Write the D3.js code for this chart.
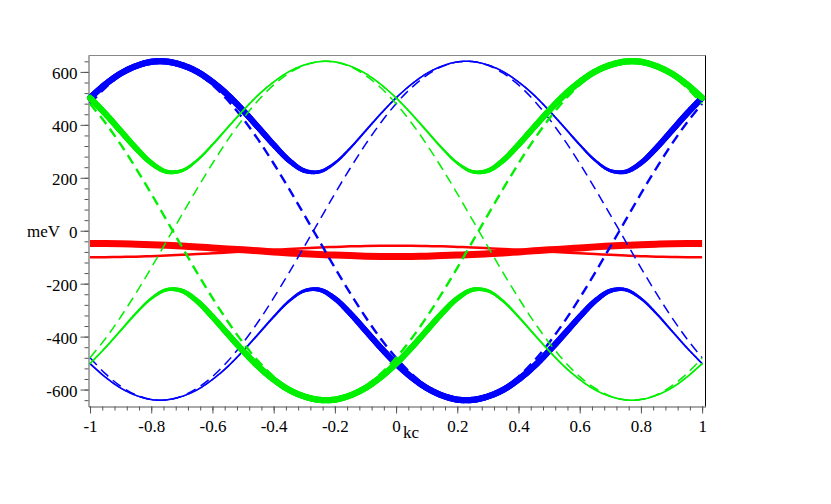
<!DOCTYPE html>
<html>
<head>
<meta charset="utf-8">
<script src="https://cdn.jsdelivr.net/npm/d3@7"></script>
<style>
  body { margin: 0; background: #fff; }
  text { font-family: "Liberation Serif", "Times New Roman", serif; font-size: 17px; fill: #000; }
</style>
</head>
<body>
<div id="chart"></div>
<script>
// k grid (units of kc) and the energies (meV)
var kValues = [-1, -0.95, -0.9, -0.85, -0.8, -0.75, -0.7, -0.65, -0.6, -0.55, -0.5, -0.45, -0.4, -0.35, -0.3, -0.25, -0.2, -0.15, -0.1, -0.05,
  0, 0.05, 0.1, 0.15, 0.2, 0.25, 0.3, 0.35, 0.4, 0.45, 0.5, 0.55, 0.6, 0.65, 0.7, 0.75, 0.8, 0.85, 0.9, 0.95, 1];

var blueUpper = [502, 553, 594, 622, 638, 639, 626, 601, 562, 513, 454, 390, 325, 266, 227, 223, 256, 312, 377, 442,
  502, 553, 594, 622, 638, 639, 626, 601, 562, 513, 454, 390, 325, 266, 227, 223, 256, 312, 377, 442, 502];
var blueLower = [-502, -553, -594, -622, -638, -639, -626, -601, -562, -513, -454, -390, -325, -266, -227, -223, -256, -312, -377, -442,
  -502, -553, -594, -622, -638, -639, -626, -601, -562, -513, -454, -390, -325, -266, -227, -223, -256, -312, -377, -442, -502];
var greenUpper = [502, 442, 377, 312, 256, 223, 227, 266, 325, 390, 454, 513, 562, 601, 626, 639, 638, 622, 594, 553,
  502, 442, 377, 312, 256, 223, 227, 266, 325, 390, 454, 513, 562, 601, 626, 639, 638, 622, 594, 553, 502];
var greenLower = [-502, -442, -377, -312, -256, -223, -227, -266, -325, -390, -454, -513, -562, -601, -626, -639, -638, -622, -594, -553,
  -502, -442, -377, -312, -256, -223, -227, -266, -325, -390, -454, -513, -562, -601, -626, -639, -638, -622, -594, -553, -502];

// spectral weight along each solid branch (0..1)
var blueUpperWeight = [0.98, 0.99, 0.99, 1, 1, 1, 1, 1, 0.99, 0.98, 0.97, 0.94, 0.89, 0.80, 0.63, 0.41, 0.23, 0.12, 0.07, 0.04,
  0.02, 0.01, 0.01, 0, 0, 0, 0, 0, 0.01, 0.02, 0.03, 0.06, 0.11, 0.20, 0.37, 0.59, 0.77, 0.88, 0.93, 0.96, 0.98];
var blueLowerWeight = [0.02, 0.01, 0.01, 0, 0, 0, 0, 0, 0.01, 0.02, 0.03, 0.06, 0.11, 0.20, 0.37, 0.59, 0.77, 0.88, 0.93, 0.96,
  0.98, 0.99, 0.99, 1, 1, 1, 1, 1, 0.99, 0.98, 0.97, 0.94, 0.89, 0.80, 0.63, 0.41, 0.23, 0.12, 0.07, 0.04, 0.02];
var greenUpperWeight = [0.98, 0.96, 0.93, 0.88, 0.77, 0.59, 0.37, 0.20, 0.11, 0.06, 0.03, 0.02, 0.01, 0, 0, 0, 0, 0, 0.01, 0.01,
  0.02, 0.04, 0.07, 0.12, 0.23, 0.41, 0.63, 0.80, 0.89, 0.94, 0.97, 0.98, 0.99, 1, 1, 1, 1, 1, 0.99, 0.99, 0.98];
var greenLowerWeight = [0.02, 0.04, 0.07, 0.12, 0.23, 0.41, 0.63, 0.80, 0.89, 0.94, 0.97, 0.98, 0.99, 1, 1, 1, 1, 1, 0.99, 0.99,
  0.98, 0.96, 0.93, 0.88, 0.77, 0.59, 0.37, 0.20, 0.11, 0.06, 0.03, 0.02, 0.01, 0, 0, 0, 0, 0, 0.01, 0.01, 0.02];

// bare bands (dashed)
var blueDashA = [480, 540, 587, 620, 637, 639, 625, 595, 551, 493, 423, 343, 254, 159, 60, -40, -140, -236, -326, -408,
  -480, -540, -587, -620, -637, -639, -625, -595, -551, -493, -423, -343, -254, -159, -60, 40, 140, 236, 326, 408, 480];
var blueDashB = [-480, -540, -587, -620, -637, -639, -625, -595, -551, -493, -423, -343, -254, -159, -60, 40, 140, 236, 326, 408,
  480, 540, 587, 620, 637, 639, 625, 595, 551, 493, 423, 343, 254, 159, 60, -40, -140, -236, -326, -408, -480];
var greenDashA = [480, 408, 326, 236, 140, 40, -60, -159, -254, -343, -423, -493, -551, -595, -625, -639, -637, -620, -587, -540,
  -480, -408, -326, -236, -140, -40, 60, 159, 254, 343, 423, 493, 551, 595, 625, 639, 637, 620, 587, 540, 480];
var greenDashB = [-480, -408, -326, -236, -140, -40, 60, 159, 254, 343, 423, 493, 551, 595, 625, 639, 637, 620, 587, 540,
  480, 408, 326, 236, 140, 40, -60, -159, -254, -343, -423, -493, -551, -595, -625, -639, -637, -620, -587, -540, -480];

// flat bands near -75 meV
var redThick = [-48, -48, -49, -51, -53, -55, -58, -61, -65, -69, -72, -76, -80, -84, -87, -90, -92, -94, -96, -97,
  -97, -97, -96, -94, -92, -90, -87, -84, -80, -76, -72, -69, -65, -61, -58, -55, -53, -51, -49, -48, -48];
var redThin = [-100, -100, -99, -98, -96, -94, -91, -88, -85, -82, -78, -75, -72, -69, -66, -63, -61, -59, -58, -57,
  -57, -57, -58, -59, -61, -63, -66, -69, -72, -75, -78, -82, -85, -88, -91, -94, -96, -98, -99, -100, -100];

var xTickLabels = [-1, -0.8, -0.6, -0.4, -0.2, 0, 0.2, 0.4, 0.6, 0.8, 1];
var yTickLabels = [-600, -400, -200, 0, 200, 400, 600];

var width = 831, height = 504;

var svg = d3.select("#chart").append("svg")
    .attr("width", width)
    .attr("height", height);

svg.append("rect").attr("width", width).attr("height", height).attr("fill", "#fff");

var x = d3.scaleLinear()
    .domain([-1.005, 1.011])
    .range([88.5, 705.5]);

var y = d3.scaleLinear()
    .domain([-664, 662])
    .range([406.5, 55.5]);

var fmt = function(d) { return String(d); };   // plain hyphen minus like the original

// frame: top and right edges
svg.append("line")
    .attr("x1", x.range()[0]).attr("x2", x.range()[1])
    .attr("y1", y.range()[1]).attr("y2", y.range()[1])
    .attr("stroke", "#888");
svg.append("line")
    .attr("x1", x.range()[1]).attr("x2", x.range()[1])
    .attr("y1", y.range()[1]).attr("y2", y.range()[0])
    .attr("stroke", "#000");

// y axis, minor then major
svg.append("g")
    .attr("transform", "translate(" + x.range()[0] + ",0)")
    .call(d3.axisLeft(y).tickValues(d3.range(-640, 641, 40)).tickSize(4).tickSizeOuter(0).tickFormat(""))
  .call(function(g) { g.selectAll("line,path").attr("stroke", "#555"); });

svg.append("g")
    .attr("transform", "translate(" + x.range()[0] + ",0)")
    .call(d3.axisLeft(y).tickValues(yTickLabels).tickSize(8).tickSizeOuter(0).tickPadding(3).tickFormat(fmt))
  .call(function(g) {
    g.select(".domain").remove();
    g.selectAll("line").attr("stroke", "#555");
    g.selectAll("text").attr("dy", "0.38em").attr("font-family", null).attr("font-size", null);
  });

// x axis
svg.append("g")
    .attr("transform", "translate(0," + y.range()[0] + ")")
    .call(d3.axisBottom(x).tickValues(d3.range(-1, 1.001, 0.04)).tickSize(4).tickSizeOuter(0).tickFormat(""))
  .call(function(g) { g.selectAll("line,path").attr("stroke", "#555"); });

svg.append("g")
    .attr("transform", "translate(0," + y.range()[0] + ")")
    .call(d3.axisBottom(x).tickValues(xTickLabels).tickSize(7).tickSizeOuter(0).tickPadding(6).tickFormat(fmt))
  .call(function(g) {
    g.select(".domain").remove();
    g.selectAll("line").attr("stroke", "#555");
    g.selectAll("text").attr("font-family", null).attr("font-size", null);
  });

// axis names
svg.append("text").attr("x", 27).attr("y", y(0)).attr("dy", "0.38em").text("meV");
svg.append("text").attr("x", 403).attr("y", 438).text("kc");

var plot = svg.append("g");

var smooth = d3.line().curve(d3.curveCatmullRom.alpha(0.5));
var widthScale = d3.scaleLinear().domain([0, 1]).range([1.5, 6.2]);

function points(vals) {
  return kValues.map(function(k, i) { return [x(k), y(vals[i])]; });
}

function plainCurve(vals, color, w, dash) {
  plot.append("path")
      .attr("d", smooth(points(vals)))
      .attr("fill", "none")
      .attr("stroke", color)
      .attr("stroke-width", w)
      .attr("stroke-dasharray", dash || null);
}

// solid branch whose thickness follows its weight
function weightedCurve(vals, weights, color) {
  var guide = plot.append("path").attr("d", smooth(points(vals))).attr("fill", "none");
  var node = guide.node(), total = node.getTotalLength();
  var n = Math.ceil(total / 1.5);
  var samples = d3.range(n + 1).map(function(i) { return node.getPointAtLength(total * i / n); });
  guide.remove();
  var wAt = d3.scaleLinear().domain(kValues).range(weights).clamp(true);
  plot.append("g")
      .attr("stroke", color)
      .attr("stroke-linecap", "round")
    .selectAll("line")
    .data(d3.pairs(samples))
    .join("line")
      .attr("x1", function(d) { return d[0].x; })
      .attr("y1", function(d) { return d[0].y; })
      .attr("x2", function(d) { return d[1].x; })
      .attr("y2", function(d) { return d[1].y; })
      .attr("stroke-width", function(d) { return widthScale(wAt(x.invert((d[0].x + d[1].x) / 2))); });
}

var blue = "#0000ff", green = "#00f000", red = "#ff0000";

plainCurve(redThick, red, 7);
plainCurve(redThin, red, 2.5);

plainCurve(blueDashA, blue, 2.4, "10,6");
plainCurve(blueDashB, blue, 1.5, "10,6");
weightedCurve(blueUpper, blueUpperWeight, blue);
weightedCurve(blueLower, blueLowerWeight, blue);

plainCurve(greenDashA, green, 2.4, "10,6");
plainCurve(greenDashB, green, 1.5, "10,6");
weightedCurve(greenUpper, greenUpperWeight, green);
weightedCurve(greenLower, greenLowerWeight, green);
</script>
</body>
</html>
